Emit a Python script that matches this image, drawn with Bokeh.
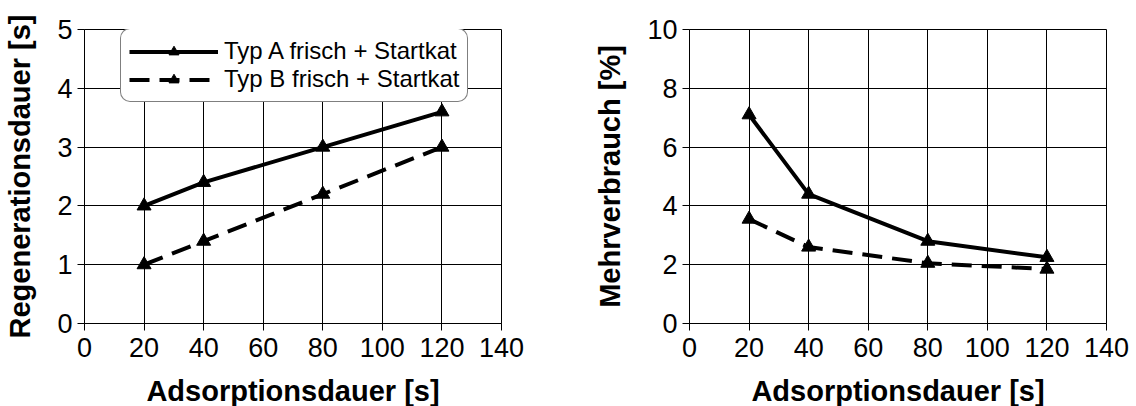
from bokeh.plotting import figure
from bokeh.layouts import row
from bokeh.models import Legend, LegendItem, FixedTicker, Range1d, Title
from bokeh.embed import file_html
from bokeh.resources import INLINE

# ---- data ----
adsorption = [20, 40, 80, 120]
regen_a = [2.0, 2.4, 3.0, 3.6]
regen_b = [1.0, 1.4, 2.2, 3.0]
mehr_a = [7.1, 4.4, 2.8, 2.25]
mehr_b = [3.55, 2.6, 2.05, 1.85]
x_ticks = [0, 20, 40, 60, 80, 100, 120, 140]
regen_ticks = [0, 1, 2, 3, 4, 5]
mehr_ticks = [0, 2, 4, 6, 8, 10]
label_a = "Typ A frisch + Startkat"
label_b = "Typ B frisch + Startkat"
x_label = "Adsorptionsdauer [s]"
regen_label = "Regenerationsdauer [s]"
mehr_label = "Mehrverbrauch [%]"

FONT = "Liberation Sans"


def make_fig(width, left, right, ymax, yticks, ylabel):
    p = figure(width=width, height=406, output_backend="svg", toolbar_location=None,
               x_range=Range1d(0, 140), y_range=Range1d(0, ymax),
               min_border_left=left, min_border_right=right,
               min_border_top=29, min_border_bottom=82)
    p.background_fill_color = "white"
    p.border_fill_color = "white"
    p.outline_line_color = "black"
    p.outline_line_width = 1
    p.xaxis.ticker = FixedTicker(ticks=x_ticks)
    p.yaxis.ticker = FixedTicker(ticks=yticks)
    for ax in (p.xaxis, p.yaxis):
        ax.axis_line_color = "black"
        ax.major_tick_line_color = "black"
        ax.major_tick_out = 7
        ax.major_tick_in = 0
        ax.minor_tick_line_color = None
        ax.major_label_text_font = FONT
        ax.major_label_text_font_size = "27px"
        ax.major_label_text_color = "black"
        ax.axis_label_text_font = FONT
        ax.axis_label_text_font_size = "29px"
        ax.axis_label_text_font_style = "bold"
        ax.axis_label_text_color = "black"
    p.yaxis.axis_label = ylabel
    p.xaxis.major_label_standoff = 7
    p.yaxis.major_label_standoff = 5
    p.yaxis.axis_label_standoff = 18
    p.xgrid.ticker = FixedTicker(ticks=x_ticks)
    p.ygrid.ticker = FixedTicker(ticks=yticks)
    for g in (p.xgrid, p.ygrid):
        g.grid_line_color = "black"
        g.grid_line_width = 1
        g.grid_line_alpha = 1.0
    # small blank spacer between tick labels and the x axis title
    p.add_layout(Title(text=" ", standoff=0, text_font=FONT, text_font_size="10px"), "below")
    # x axis title, placed below the tick labels
    p.add_layout(Title(text=x_label, align="center", standoff=0, offset=0,
                       text_font=FONT, text_font_size="29px", text_font_style="bold",
                       text_color="black"), "below")
    return p


def add_series(p, ys, dash):
    ln = p.line(adsorption, ys, line_color="black", line_width=4, line_dash=dash)
    mk = p.scatter(adsorption, ys, marker="triangle", size=14,
                   fill_color="black", line_color="black")
    return ln, mk


p1 = make_fig(560, 84, 59, 5, regen_ticks, regen_label)
a1 = add_series(p1, regen_a, "solid")
b1 = add_series(p1, regen_b, "20 10")

legend = Legend(items=[LegendItem(label=label_a, renderers=list(a1)),
                       LegendItem(label=label_b, renderers=list(b1))],
                location=(36, 221))
legend.label_text_font = FONT
legend.label_text_font_size = "24px"
legend.label_text_color = "black"
legend.glyph_width = 89
legend.label_height = 25
legend.glyph_height = 25
legend.label_standoff = 6
legend.spacing = 0
legend.padding = 8
legend.margin = 0
legend.border_line_color = "black"
legend.border_line_width = 1
legend.background_fill_color = "white"
legend.background_fill_alpha = 1.0
if "border_radius" in Legend.properties():
    legend.border_radius = 10
p1.add_layout(legend)

p2 = make_fig(576, 129, 30, 10, mehr_ticks, mehr_label)
add_series(p2, mehr_a, "solid")
add_series(p2, mehr_b, "20 10")

layout = row(p1, p2)
open("out.html", "w").write(file_html(layout, INLINE))
